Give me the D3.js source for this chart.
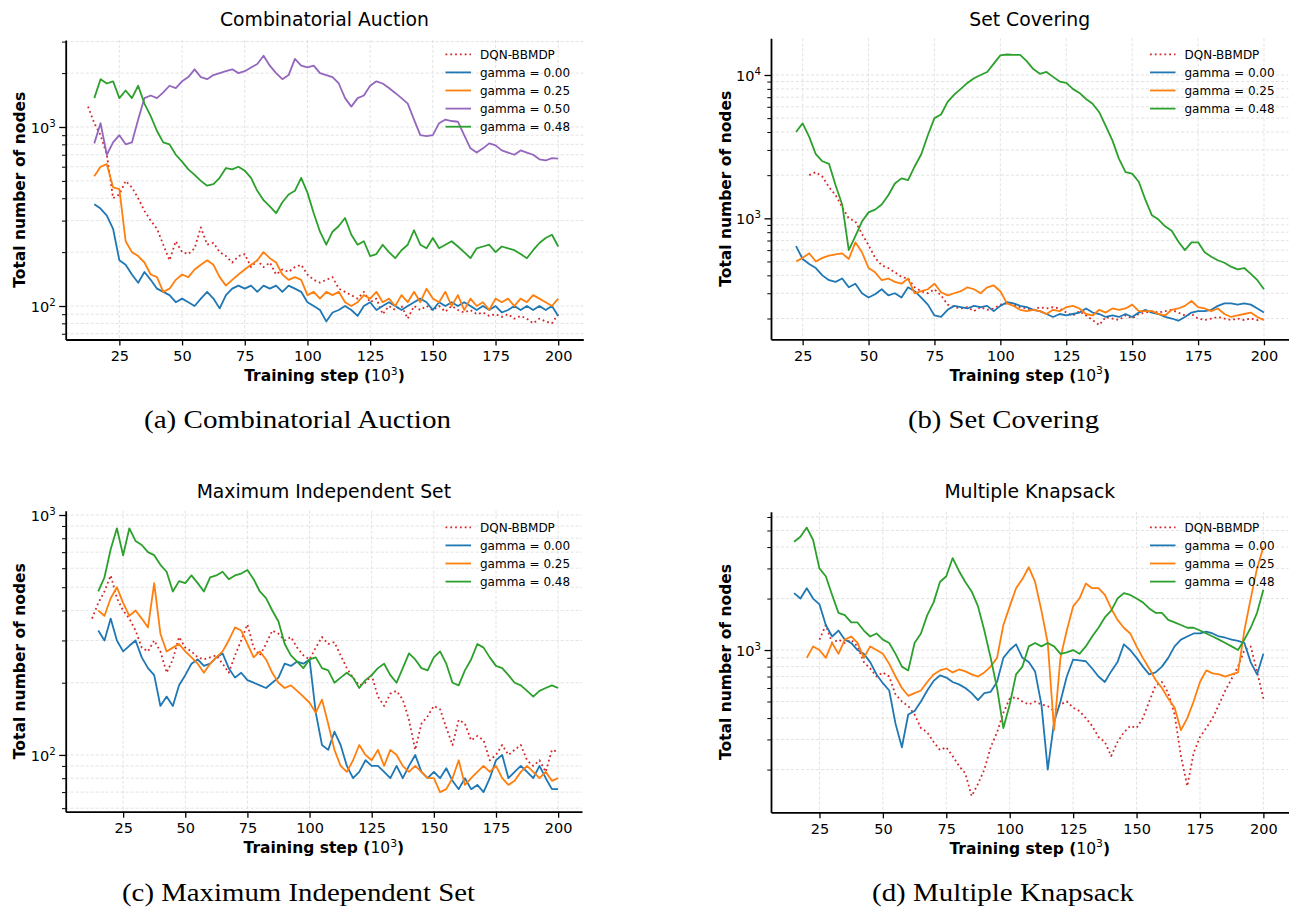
<!DOCTYPE html>
<html>
<head>
<meta charset="utf-8">
<script src="https://cdn.jsdelivr.net/npm/d3@7"></script>
<style>
  body { margin: 0; background: #fff; }
  svg { display: block; }
  text { font-family: "DejaVu Sans", sans-serif; fill: #000; }
</style>
</head>
<body>
<svg id="fig" width="1290" height="907"></svg>
<script>
// Training steps are sampled every 2.5 (x 10^3); each series lists node counts from its first step.
const STEP = 2.5;
const xTickValues = [25, 50, 75, 100, 125, 150, 175, 200];

// (a) Combinatorial Auction
const caDqnStart = 12.5;
const caDqn = [1300, 1050, 900, 700, 400, 420, 500, 460, 400, 340,
  300, 270, 220, 180, 230, 200, 195, 210, 275, 220,
  225, 200, 190, 175, 190, 195, 165, 180, 165, 175,
  150, 160, 155, 165, 170, 150, 140, 135, 140, 145,
  125, 120, 115, 110, 120, 105, 110, 90, 100, 95,
  100, 85, 100, 95, 100, 95, 100, 93, 100, 95,
  92, 95, 90, 92, 88, 90, 87, 90, 85, 88,
  85, 80, 85, 82, 80, 90];
const caGammaStart = 15;
const caG000 = [370, 350, 320, 270, 180, 170, 150, 135, 155, 140,
  125, 120, 115, 105, 110, 105, 100, 110, 120, 110,
  97, 115, 125, 130, 125, 130, 120, 130, 125, 130,
  120, 130, 125, 120, 105, 100, 95, 82, 92, 95,
  100, 95, 88, 100, 105, 95, 100, 105, 100, 95,
  100, 105, 110, 105, 95, 105, 100, 105, 100, 105,
  100, 95, 100, 95, 100, 92, 95, 100, 95, 100,
  95, 100, 95, 100, 88];
const caG025 = [530, 600, 620, 460, 450, 230, 200, 190, 175, 150,
  145, 120, 125, 140, 150, 145, 160, 170, 180, 170,
  145, 130, 140, 150, 160, 170, 180, 200, 185, 175,
  150, 140, 145, 140, 115, 120, 110, 120, 115, 120,
  105, 100, 105, 115, 110, 120, 105, 110, 100, 115,
  105, 120, 105, 125, 110, 105, 120, 100, 115, 95,
  110, 100, 105, 95, 110, 105, 110, 100, 110, 105,
  115, 110, 105, 100, 110];
const caG050 = [810, 1050, 700, 820, 900, 800, 820, 1100, 1450, 1500,
  1450, 1560, 1700, 1650, 1800, 1900, 2100, 1900, 1850, 1950,
  2000, 2050, 2100, 2000, 2050, 2150, 2250, 2500, 2200, 2000,
  1850, 1950, 2400, 2200, 2150, 2200, 2000, 1950, 1900, 1750,
  1450, 1300, 1450, 1500, 1700, 1800, 1750, 1650, 1550, 1450,
  1350, 1100, 900, 890, 900, 1050, 1100, 1080, 1070, 900,
  760, 720, 760, 810, 790, 740, 720, 700, 740, 720,
  700, 660, 650, 670, 665];
const caG048 = [1450, 1850, 1750, 1800, 1450, 1600, 1450, 1700, 1350, 1150,
  950, 820, 800, 700, 640, 580, 540, 500, 470, 480,
  520, 590, 580, 600, 570, 520, 440, 390, 360, 330,
  380, 420, 440, 520, 430, 330, 260, 220, 260, 280,
  310, 250, 220, 230, 190, 195, 220, 200, 185, 205,
  220, 265, 220, 210, 240, 210, 220, 230, 215, 200,
  185, 210, 215, 220, 200, 215, 210, 205, 195, 185,
  205, 225, 240, 250, 215];

// (b) Set Covering
const scDqnStart = 27.5;
const scDqn = [2000, 2100, 1950, 1650, 1450, 1200, 1000, 950, 780, 650,
  530, 470, 450, 420, 390, 380, 330, 310, 300, 320,
  290, 250, 240, 235, 240, 225, 240, 230, 235, 250,
  255, 250, 240, 235, 230, 240, 235, 240, 235, 220,
  210, 225, 210, 195, 180, 205, 200, 195, 210, 200,
  215, 220, 225, 220, 225, 230, 220, 210, 215, 200,
  195, 200, 205, 200, 195, 200, 195, 200, 195, 200];
const scGammaStart = 22.5;
const scG000 = [640, 520, 480, 450, 400, 370, 360, 380, 330, 350,
  300, 280, 295, 320, 290, 300, 280, 330, 310, 280,
  250, 210, 205, 230, 245, 240, 235, 245, 240, 245,
  225, 245, 260, 255, 245, 240, 230, 225, 215, 205,
  215, 210, 215, 220, 235, 220, 215, 205, 210, 205,
  215, 205, 220, 230, 220, 215, 205, 200, 193, 205,
  220, 225, 225, 230, 245, 255, 255, 250, 255, 250,
  235, 220];
const scG025 = [500, 530, 570, 500, 530, 550, 560, 570, 520, 680,
  580, 450, 420, 370, 380, 360, 350, 380, 300, 310,
  320, 350, 305, 290, 300, 310, 330, 320, 300, 330,
  340, 310, 255, 245, 230, 225, 230, 225, 215, 230,
  225, 240, 245, 235, 215, 210, 230, 220, 235, 230,
  235, 250, 225, 225, 225, 215, 210, 230, 235, 245,
  265, 240, 235, 225, 235, 215, 205, 210, 215, 220,
  205, 195];
const scG048 = [4000, 4600, 3700, 2800, 2500, 2400, 1700, 1250, 600, 750,
  950, 1100, 1150, 1250, 1450, 1750, 1900, 1850, 2300, 2800,
  3800, 5000, 5300, 6500, 7300, 8000, 8800, 9500, 10000, 10500,
  12000, 13700, 13900, 13800, 13800, 12500, 11000, 10200, 10500, 9700,
  9000, 8800, 8000, 7500, 6800, 6300, 5500, 4400, 3500, 2600,
  2100, 2050, 1800, 1350, 1050, 980, 880, 820, 690, 600,
  680, 680, 580, 540, 510, 490, 460, 440, 450, 410,
  370, 320];

// (c) Maximum Independent Set
const misDqnStart = 12.5;
const misDqn = [370, 430, 480, 560, 450, 400, 370, 330, 280, 270,
  300, 270, 220, 250, 310, 280, 270, 255, 250, 255,
  260, 240, 220, 260, 300, 350, 280, 260, 290, 330,
  320, 300, 310, 280, 260, 250, 280, 310, 290, 295,
  260, 230, 210, 195, 200, 215, 175, 160, 180, 185,
  170, 140, 105, 135, 145, 160, 155, 130, 110, 140,
  135, 115, 120, 115, 95, 100, 110, 100, 105, 110,
  95, 90, 95, 85, 105, 103];
const misGammaStart = 15;
const misG000 = [330, 300, 370, 300, 270, 285, 300, 255, 230, 215,
  160, 175, 160, 195, 215, 240, 250, 235, 240, 255,
  265, 230, 210, 220, 205, 200, 195, 190, 200, 210,
  240, 235, 245, 240, 250, 150, 110, 105, 125, 110,
  90, 80, 85, 95, 90, 90, 85, 80, 90, 80,
  90, 100, 85, 80, 85, 80, 88, 78, 72, 80,
  72, 75, 70, 80, 95, 100, 80, 85, 90, 85,
  80, 90, 80, 72, 72];
const misG025 = [400, 380, 450, 500, 430, 380, 400, 370, 340, 520,
  320, 270, 280, 290, 270, 255, 240, 220, 240, 255,
  270, 300, 340, 330, 290, 255, 270, 250, 220, 200,
  190, 195, 185, 175, 165, 150, 170, 135, 105, 90,
  85, 95, 110, 100, 95, 105, 90, 105, 100, 90,
  85, 90, 85, 80, 80, 70, 72, 80, 95, 75,
  80, 85, 90, 85, 90, 80, 75, 78, 85, 90,
  85, 80, 85, 78, 80];
const misG048 = [480, 550, 720, 880, 680, 880, 780, 750, 700, 680,
  620, 580, 480, 530, 520, 560, 520, 480, 550, 560,
  580, 540, 560, 570, 590, 540, 480, 450, 400, 360,
  290, 260, 245, 230, 250, 255, 230, 225, 200, 210,
  220, 210, 190, 205, 215, 230, 240, 215, 200, 230,
  265, 250, 230, 225, 255, 270, 240, 200, 195, 225,
  250, 290, 280, 255, 235, 230, 215, 200, 195, 185,
  175, 185, 190, 195, 190];

// (d) Multiple Knapsack
const mkDqnStart = 25;
const mkDqn = [1150, 1400, 1100, 1150, 1100, 1150, 1050, 850, 780, 700,
  740, 700, 550, 500, 470, 420, 350, 330, 290, 260,
  270, 240, 210, 190, 140, 165, 200, 270, 330, 430,
  520, 530, 500, 480, 500, 480, 470, 440, 480, 500,
  460, 440, 400, 360, 310, 290, 240, 290, 330, 360,
  350, 400, 500, 620, 650, 560, 420, 240, 160, 250,
  310, 350, 400, 480, 580, 680, 800, 1000, 1050, 750,
  520];
const mkG000Start = 15;
const mkG000 = [2150, 2000, 2300, 2000, 1850, 1400, 1200, 1300, 1150, 1100,
  1000, 950, 850, 720, 640, 580, 370, 270, 420, 440,
  500, 580, 660, 710, 690, 650, 630, 600, 560, 510,
  560, 570, 650, 900, 1000, 1080, 900, 850, 750, 480,
  200, 380, 500, 700, 880, 870, 860, 780, 700, 650,
  750, 850, 1080, 1000, 900, 800, 720, 740, 800, 900,
  1050, 1150, 1200, 1250, 1250, 1280, 1250, 1200, 1180, 1150,
  1130, 1100, 850, 720, 950];
const mkG025Start = 20;
const mkG025 = [900, 1050, 1000, 900, 1100, 950, 1150, 1200, 1100, 900,
  1050, 1000, 950, 830, 700, 600, 540, 560, 580, 650,
  720, 760, 780, 740, 770, 750, 720, 700, 740, 800,
  900, 1400, 1800, 2300, 2600, 3050, 2500, 1700, 1100, 340,
  900, 1300, 1800, 2000, 2450, 2300, 2300, 2100, 1750, 1500,
  1350, 1250, 1050, 900, 780, 670, 600, 520, 460, 340,
  400, 500, 650, 760, 730, 720, 700, 720, 740, 1300,
  2000, 3000, 4000];
const mkG048Start = 15;
const mkG048 = [4300, 4600, 5200, 4400, 3000, 2700, 2100, 1650, 1600, 1450,
  1450, 1300, 1200, 1250, 1150, 1100, 950, 800, 760, 1100,
  1250, 1600, 1900, 2500, 2700, 3450, 2900, 2500, 2200, 1800,
  1300, 900, 600, 350, 480, 720, 800, 1050, 1100, 1050,
  1100, 1050, 950, 970, 1000, 950, 1050, 1200, 1350, 1550,
  1700, 2000, 2150, 2100, 2000, 1900, 1750, 1650, 1650, 1500,
  1450, 1400, 1350, 1350, 1300, 1250, 1200, 1150, 1100, 1050,
  1000, 1150, 1350, 1650, 2250];

const seriesLabels = {
  dqn: "DQN-BBMDP", g000: "gamma = 0.00", g025: "gamma = 0.25",
  g050: "gamma = 0.50", g048: "gamma = 0.48"
};
const seriesColors = {
  dqn: "#d62728", g000: "#1f77b4", g025: "#ff7f0e", g050: "#9467bd", g048: "#2ca02c"
};

// Layout of the four subplots
const panels = [
  { title: "Combinatorial Auction", caption: "(a) Combinatorial Auction",
    box: { l: 65.7, r: 583.3, t: 40, b: 339.5 }, xDom: [3.6, 210.0], yDom: [65, 3062],
    series: [["dqn", caDqnStart, caDqn], ["g000", caGammaStart, caG000], ["g025", caGammaStart, caG025],
             ["g050", caGammaStart, caG050], ["g048", caGammaStart, caG048]],
    legend: { x: 445.5, y: 54.3 }, cap: { x: 297.5, y: 428, len: 307 } },
  { title: "Set Covering", caption: "(b) Set Covering",
    box: { l: 771, r: 1288.5, t: 38.3, b: 339.3 }, xDom: [13.0, 209.3], yDom: [143.2, 18030],
    series: [["dqn", scDqnStart, scDqn], ["g000", scGammaStart, scG000], ["g025", scGammaStart, scG025],
             ["g048", scGammaStart, scG048]],
    legend: { x: 1150, y: 54.3 }, cap: { x: 1003.5, y: 428, len: 191 } },
  { title: "Maximum Independent Set", caption: "(c) Maximum Independent Set",
    box: { l: 65.7, r: 582, t: 510.7, b: 811.7 }, xDom: [1.9, 209.6], yDom: [58.0, 1042],
    series: [["dqn", misDqnStart, misDqn], ["g000", misGammaStart, misG000], ["g025", misGammaStart, misG025],
             ["g048", misGammaStart, misG048]],
    legend: { x: 445.5, y: 527.3 }, cap: { x: 298.5, y: 901, len: 353 } },
  { title: "Multiple Knapsack", caption: "(d) Multiple Knapsack",
    box: { l: 771, r: 1288.5, t: 511.7, b: 812.3 }, xDom: [5.9, 209.9], yDom: [112.5, 6440],
    series: [["dqn", mkDqnStart, mkDqn], ["g000", mkG000Start, mkG000], ["g025", mkG025Start, mkG025],
             ["g048", mkG048Start, mkG048]],
    legend: { x: 1150, y: 527.3 }, cap: { x: 1003, y: 901, len: 262 } }
];

const svg = d3.select("#fig");
svg.append("rect").attr("width", 1290).attr("height", 907).attr("fill", "#fff");

function logTicks(lo, hi) {
  const majors = [], minors = [];
  for (let e = Math.floor(Math.log10(lo)); e <= Math.ceil(Math.log10(hi)); e++) {
    for (let k = 1; k < 10; k++) {
      const v = k * Math.pow(10, e);
      if (v >= lo && v <= hi) (k === 1 ? majors : minors).push(v);
    }
  }
  return { majors, minors };
}

panels.forEach(p => {
  const g = svg.append("g");
  const { l, r, t, b } = p.box;
  const x = d3.scaleLinear().domain(p.xDom).range([l, r]);
  const y = d3.scaleLog().domain(p.yDom).range([b, t]);
  const { majors, minors } = logTicks(p.yDom[0], p.yDom[1]);

  // grid
  const grid = g.append("g").attr("stroke", "#dcdcdc").attr("stroke-width", 0.8)
    .attr("stroke-dasharray", "3,2").attr("fill", "none");
  grid.selectAll("line.gx").data(xTickValues).join("line").attr("class", "gx")
    .attr("x1", d => x(d)).attr("x2", d => x(d)).attr("y1", t).attr("y2", b);
  grid.selectAll("line.gy").data(majors.concat(minors)).join("line").attr("class", "gy")
    .attr("x1", l).attr("x2", r).attr("y1", d => y(d)).attr("y2", d => y(d));

  // series
  const line = d3.line().x(d => x(d[0])).y(d => y(d[1]));
  p.series.forEach(([key, start, vals]) => {
    const pts = vals.map((v, i) => [start + i * STEP, v]);
    g.append("path").datum(pts).attr("d", line).attr("fill", "none")
      .attr("stroke", seriesColors[key]).attr("stroke-width", 1.8)
      .attr("stroke-linejoin", "round")
      .attr("stroke-dasharray", key === "dqn" ? "1.8,3" : null);
  });

  // x axis
  const xa = g.append("g").attr("transform", `translate(0,${b})`)
    .call(d3.axisBottom(x).tickValues(xTickValues).tickSize(6).tickSizeOuter(0).tickPadding(5));
  xa.select(".domain").attr("stroke-width", 1.8);
  xa.selectAll(".tick line").attr("stroke-width", 1.3);
  xa.selectAll(".tick text").attr("font-size", 14.5).attr("font-family", "DejaVu Sans");

  // y axis: minor ticks
  const ym = g.append("g").attr("transform", `translate(${l},0)`)
    .call(d3.axisLeft(y).tickValues(minors).tickSize(3.7).tickFormat(""));
  ym.select(".domain").remove();
  ym.selectAll(".tick line").attr("stroke-width", 1.0);

  // y axis: decades
  const ya = g.append("g").attr("transform", `translate(${l},0)`)
    .call(d3.axisLeft(y).tickValues(majors).tickSize(6.5).tickSizeOuter(0).tickPadding(3.5)
      .tickFormat(() => "10"));
  ya.select(".domain").attr("stroke-width", 1.8);
  ya.selectAll(".tick line").attr("stroke-width", 1.3);
  ya.selectAll(".tick text").attr("font-size", 14.5).attr("font-family", "DejaVu Sans")
    .attr("dy", 5.5)
    .each(function (d) {
      d3.select(this).append("tspan").attr("font-size", 10.2).attr("dy", -6.2)
        .text(Math.round(Math.log10(d)));
    });

  // title
  g.append("text").attr("x", (l + r) / 2).attr("y", t < 100 ? 26 : 498)
    .attr("text-anchor", "middle").attr("font-size", 18.8).text(p.title);

  // axis labels
  const xl = g.append("text").attr("x", (l + r) / 2).attr("y", b + 41.5)
    .attr("text-anchor", "middle").attr("font-size", 15.5);
  xl.append("tspan").attr("font-weight", "bold").text("Training step (");
  xl.append("tspan").text("10");
  xl.append("tspan").attr("font-size", 10.8).attr("dy", -6.5).text("3");
  xl.append("tspan").attr("font-weight", "bold").attr("dy", 6.5).text(")");

  const ylx = l < 400 ? 19 : 725;
  g.append("text").attr("transform", `translate(${ylx + 5.5},${(t + b) / 2}) rotate(-90)`)
    .attr("text-anchor", "middle").attr("font-size", 15.5).attr("font-weight", "bold")
    .text("Total number of nodes");

  // legend
  const lg = g.append("g");
  p.series.forEach(([key], i) => {
    const yy = p.legend.y + i * 18.1;
    lg.append("line").attr("x1", p.legend.x).attr("x2", p.legend.x + 25.5)
      .attr("y1", yy).attr("y2", yy).attr("stroke", seriesColors[key]).attr("stroke-width", 1.8)
      .attr("stroke-dasharray", key === "dqn" ? "1.8,3" : null);
    lg.append("text").attr("x", p.legend.x + 34.5).attr("y", yy + 4.3)
      .attr("font-size", 12).text(seriesLabels[key]);
  });

  // caption
  svg.append("text").attr("x", p.cap.x).attr("y", p.cap.y).attr("text-anchor", "middle")
    .attr("font-size", 25.5)
    .attr("textLength", p.cap.len).attr("lengthAdjust", "spacingAndGlyphs")
    .style("font-family", "'Liberation Serif', serif")
    .text(p.caption);
});
</script>
</body>
</html>
